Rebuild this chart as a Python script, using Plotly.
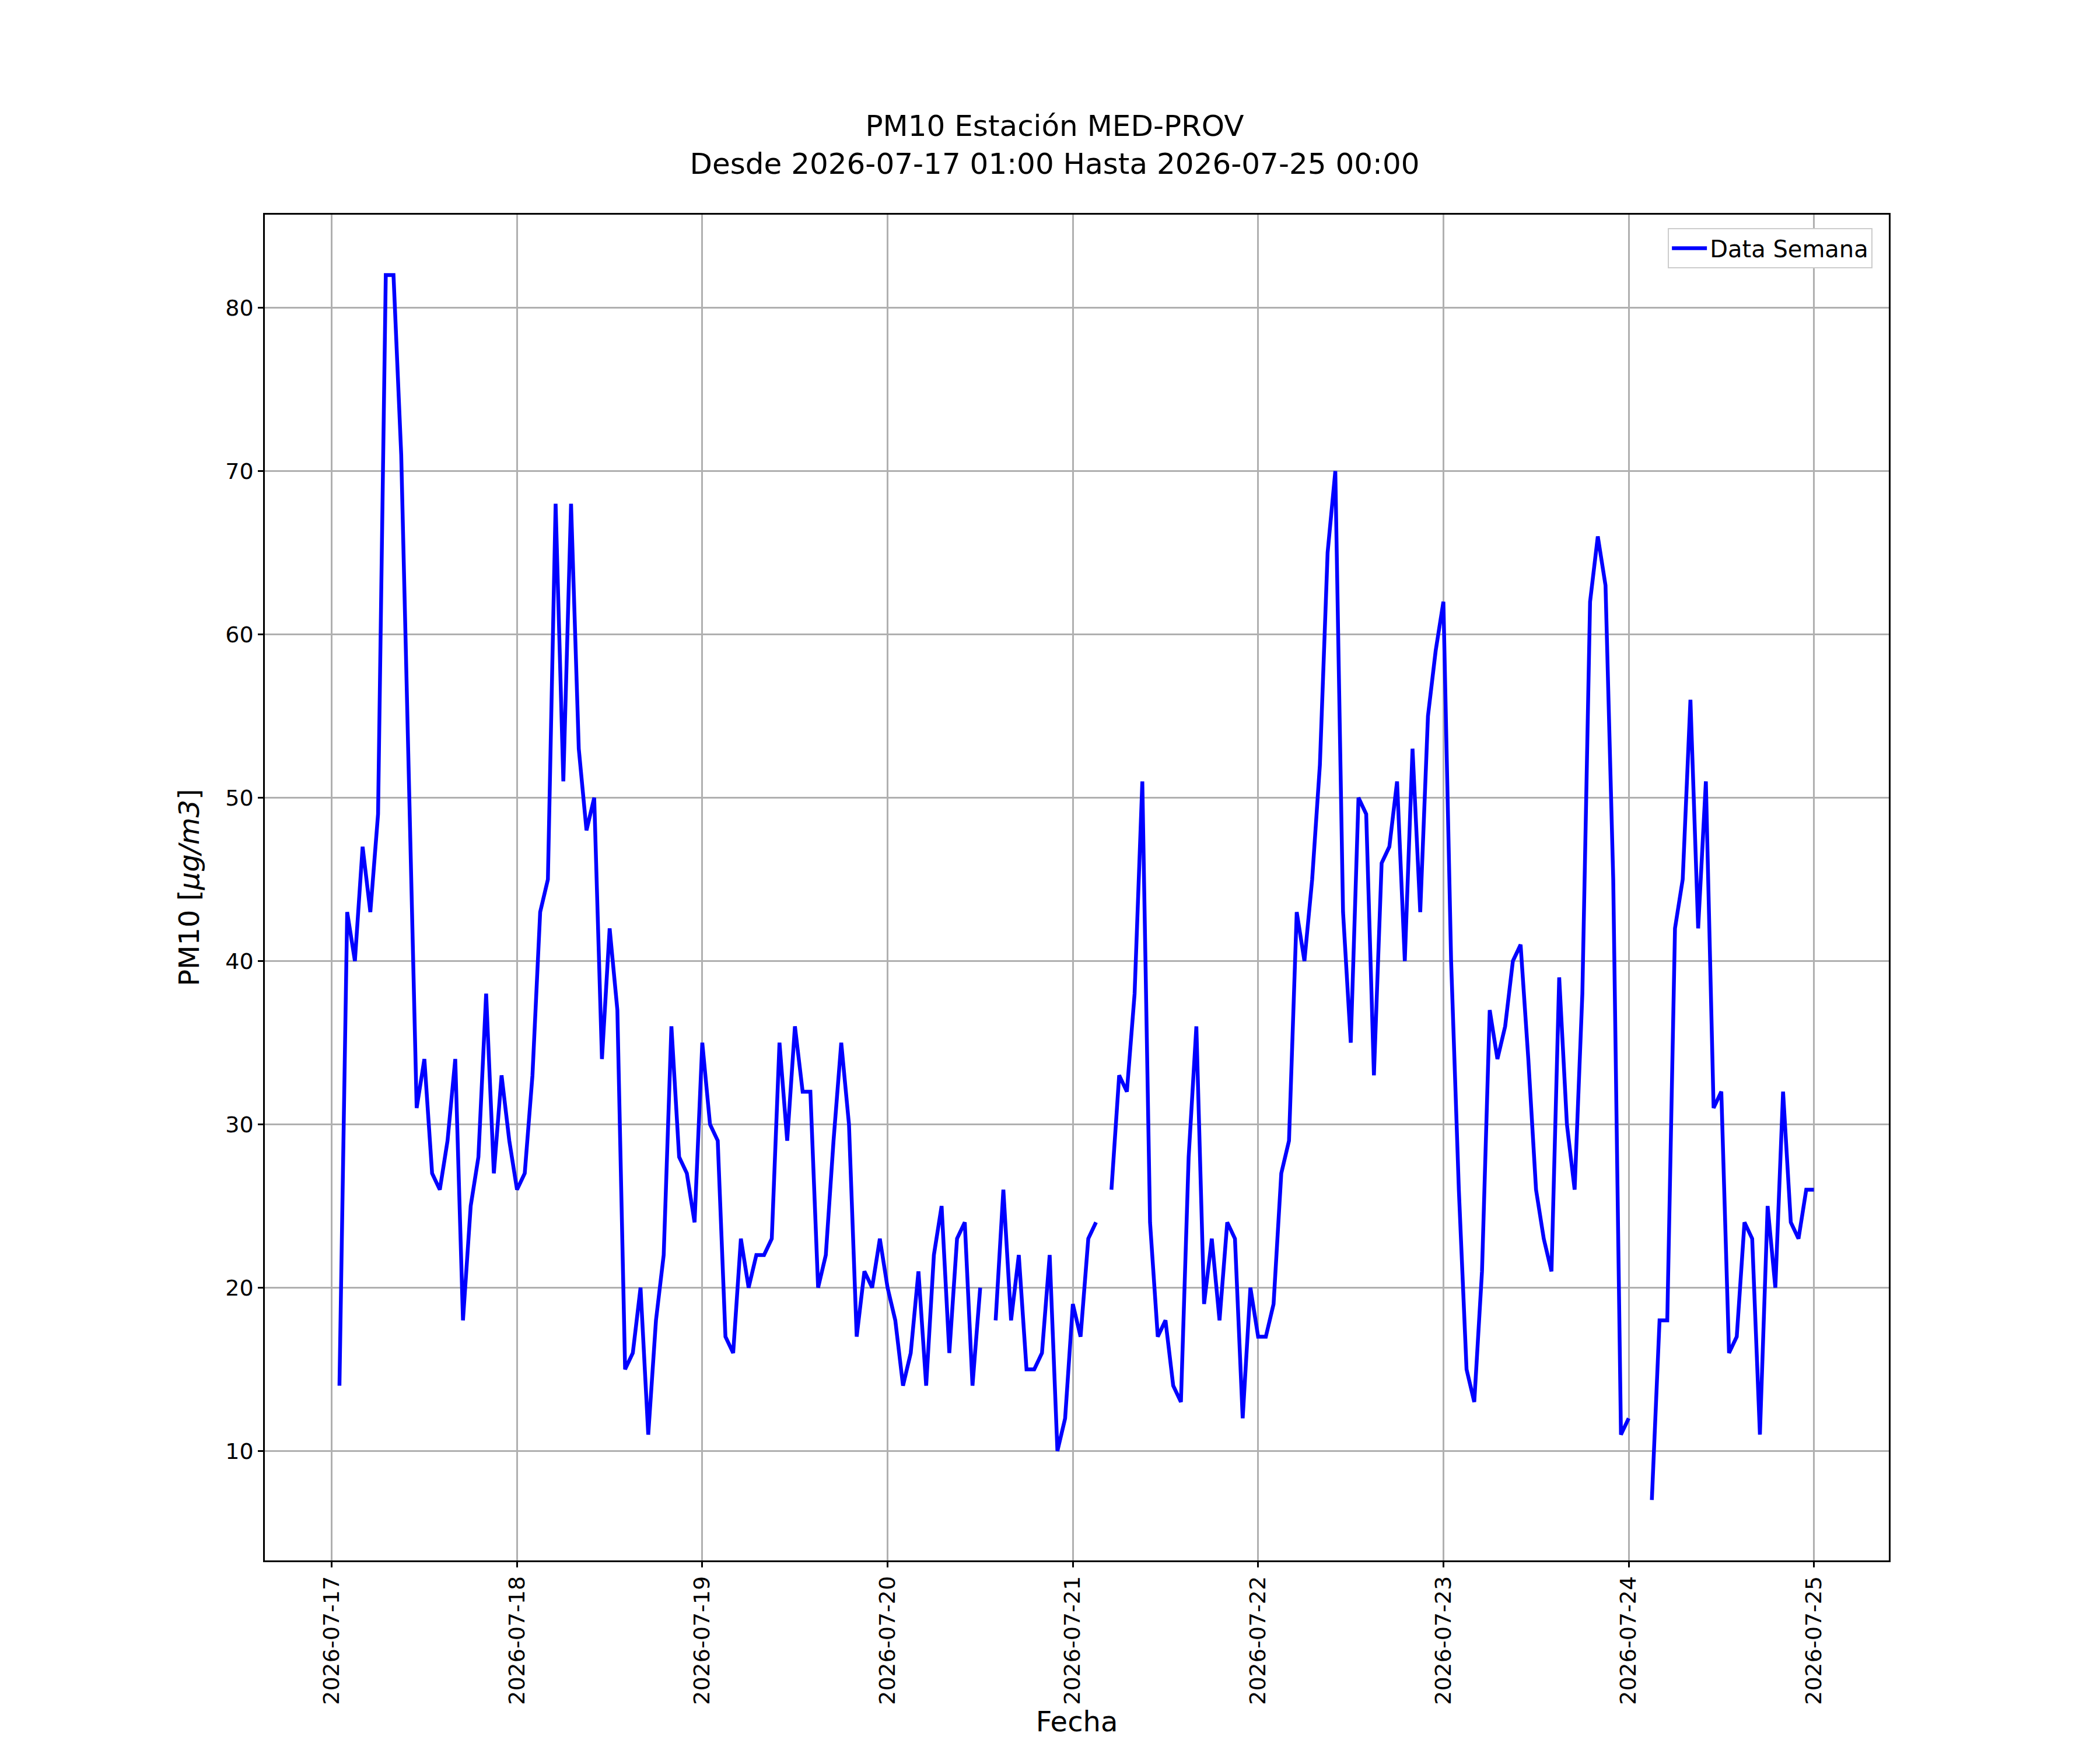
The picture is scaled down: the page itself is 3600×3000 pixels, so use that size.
import pandas as pd
import plotly.graph_objects as go

N = None
day17 = [14, 43, 40, 47, 43, 49, 82, 82, 71, 52, 31, 34, 27, 26, 29, 34, 18, 25, 28, 38, 27, 33, 29, 26]
day18 = [27, 33, 43, 45, 68, 51, 68, 53, 48, 50, 34, 42, 37, 15, 16, 20, 11, 18, 22, 36, 28, 27, 24, 35]
day19 = [30, 29, 17, 16, 23, 20, 22, 22, 23, 35, 29, 36, 32, 32, 20, 22, 29, 35, 30, 17, 21, 20, 23, 20]
day20 = [18, 14, 16, 21, 14, 22, 25, 16, 23, 24, 14, 20, N, 18, 26, 18, 22, 15, 15, 16, 22, 10, 12, 19]
day21 = [17, 23, 24, N, 26, 33, 32, 38, 51, 24, 17, 18, 14, 13, 28, 36, 19, 23, 18, 24, 23, 12, 20, 17]
day22 = [17, 19, 27, 29, 43, 40, 45, 52, 65, 70, 43, 35, 50, 49, 33, 46, 47, 51, 40, 53, 43, 55, 59, 62]
day23 = [40, 26, 15, 13, 21, 37, 34, 36, 40, 41, 34, 26, 23, 21, 39, 30, 26, 38, 62, 66, 63, 45, 11, 12]
day24 = [N, N, 7, 18, 18, 42, 45, 56, 42, 51, 31, 32, 16, 17, 24, 23, 11, 25, 20, 32, 24, 23, 26, 26]

pm10 = day17 + day18 + day19 + day20 + day21 + day22 + day23 + day24
fechas = pd.date_range("2026-07-17 01:00", periods=len(pm10), freq="h")

fig = go.Figure()
fig.add_trace(go.Scatter(
    x=fechas, y=pm10, mode="lines", name="Data Semana",
    line=dict(color="blue", width=6.5), connectgaps=False,
))

font = "DejaVu Sans"
axis_common = dict(
    showline=True, linecolor="black", linewidth=2.5, mirror=True,
    ticks="outside", ticklen=9, tickwidth=2.5, tickcolor="black",
    showgrid=True, gridcolor="#b0b0b0", gridwidth=2.5, zeroline=False,
    tickfont=dict(family=font, size=38, color="black"),
)

fig.update_layout(
    width=3600, height=3000,
    paper_bgcolor="white", plot_bgcolor="white",
    margin=dict(l=446, r=370, t=360, b=333),
    title=dict(
        text="PM10 Estación MED-PROV<br>Desde 2026-07-17 01:00 Hasta 2026-07-25 00:00",
        x=0.5, xanchor="center", y=0.925, yanchor="top",
        font=dict(family=font, size=50, color="black"),
    ),
    xaxis=dict(
        range=["2026-07-16 15:20", "2026-07-25 09:42"],
        tickformat="%Y-%m-%d", dtick=86400000, tick0="2026-07-17",
        tickangle=-90,
        title=dict(text="Fecha", font=dict(family=font, size=48, color="black"), standoff=8),
        **axis_common,
    ),
    yaxis=dict(
        range=[3.3, 85.7], tickvals=[10, 20, 30, 40, 50, 60, 70, 80],
        title=dict(text="PM10 [<i>μg/m3</i>]", font=dict(family=font, size=48, color="black"), standoff=30),
        **axis_common,
    ),
    showlegend=True,
    legend=dict(
        x=0.99, y=0.99, xanchor="right", yanchor="top",
        bgcolor="white", bordercolor="#cccccc", borderwidth=2,
        font=dict(family=font, size=40, color="black"),
        itemwidth=60,
    ),
)

fig.write_html("out.html")
